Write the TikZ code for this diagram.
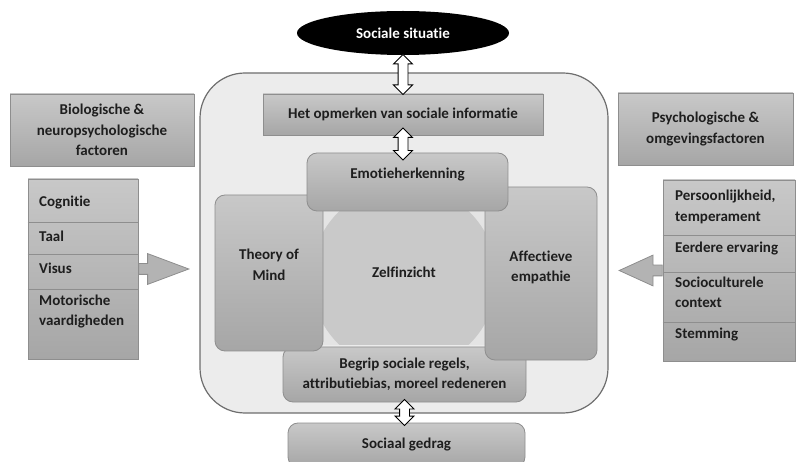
\documentclass[tikz,border=0pt]{standalone}
\usepackage{fontspec}
\setmainfont{Carlito}[Ligatures=CommonOff]
\usetikzlibrary{shapes.geometric}
\usetikzlibrary{shapes.arrows}

\definecolor{boxtop}{HTML}{C8C8C8}
\definecolor{boxbot}{HTML}{A6A6A6}
\definecolor{boxline}{HTML}{8E8E8E}
\definecolor{panelfill}{HTML}{ECECEC}
\definecolor{panelline}{HTML}{6E6E6E}
\definecolor{zelfbg}{HTML}{E4E4E4}
\definecolor{zelfcirc}{HTML}{C9C9C9}
\definecolor{txt}{HTML}{1E1E1E}

\begin{document}
\begin{tikzpicture}[x=1pt, y=-1pt, text=txt, font=\bfseries\fontsize{15}{20.5}\selectfont,
    box/.style={draw=boxline, top color=boxtop, bottom color=boxbot, line width=0.8pt, align=center, inner sep=0pt},
    rbox/.style={box, rounded corners=10pt},
    item/.style={anchor=west, align=left, inner sep=0pt},
    divider/.style={draw=boxline, line width=0.8pt},
    dblarrow/.style={double arrow, draw=black, fill=white, line width=0.9pt, rotate=90, minimum width=18pt, double arrow head extend=4.5pt, inner xsep=0pt, inner ysep=4.5pt},
    blockarrow/.style={single arrow, draw=boxline, fill=boxbot!85!white, line width=0.8pt, minimum width=30pt, single arrow head extend=10pt, inner xsep=0pt, inner ysep=5pt, anchor=tail}]
    \useasboundingbox (0,0) rectangle (798,462);

    % middle part
    \node[draw=panelline, fill=panelfill, line width=1.2pt, rounded corners=45pt, minimum width=408pt, minimum height=340pt] (panel) at (404,243) {};
    \node[ellipse, fill=black, text=white, minimum width=212pt, minimum height=44pt] (situatie) at (403,33) {Sociale situatie};
    \node[box, minimum width=280pt, minimum height=41pt] (opmerken) at (403,114.5) {Het opmerken van sociale informatie};
    \node[fill=zelfbg, minimum width=162pt, minimum height=134pt, path picture={\fill[zelfcirc] (path picture bounding box.center) circle (93pt);}] (zelf) at (404,278) {};
    \node (zelftxt) at ([yshift=6pt]zelf.center) {Zelfinzicht};
    \node[rbox, minimum width=243pt, minimum height=55pt] (begrip) at (404.5,374.5) {Begrip sociale regels,\\attributiebias, moreel redeneren};
    \node[rbox, minimum width=108pt, minimum height=156pt] (tom) at (269,273) {};
    \node[align=center] (tomtxt) at ([yshift=8pt]tom.center) {Theory of\\Mind};
    \node[rbox, minimum width=112pt, minimum height=173pt] (empathie) at (541,273.5) {};
    \node[align=center] (empathietxt) at ([yshift=6pt]empathie.center) {Affectieve\\empathie};
    \node[rbox, minimum width=201pt, minimum height=58pt] (emotie) at (407.5,182) {};
    \node (emotietxt) at ([yshift=7pt]emotie.center) {Emotieherkenning};
    \node[rbox, minimum width=237pt, minimum height=44pt] (gedrag) at (406.5,445) {Sociaal gedrag};

    \path (situatie.south) -- (opmerken.north) node[midway, dblarrow, minimum height=40pt] (pijl1) {};
    \path (opmerken.south) -- (opmerken.south |- emotie.north) node[midway, dblarrow, minimum height=32pt] (pijl2) {};
    \path (begrip.south) -- (begrip.south |- gedrag.north) node[midway, dblarrow, minimum height=26pt] (pijl3) {};

    % left
    \node[box, minimum width=184pt, minimum height=72pt] (biofactoren) at (102,130) {Biologische \&\\neuropsychologische\\factoren};
    \node[box, minimum width=110pt, minimum height=180pt] (biolijst) at (83,269) {};
    \foreach \y in {222,254,289}
        \draw[divider] (biolijst.west |- 0,\y) -- (biolijst.east |- 0,\y);
    \node[item] (cognitie) at (39,203) {Cognitie};
    \node[item] (taal) at (39,236) {Taal};
    \node[item] (visus) at (39,268) {Visus};
    \node[item] (motoriek) at (39,311.5) {Motorische\\vaardigheden};
    \node[blockarrow, minimum height=50pt, single arrow tip angle=41] (biopijl) at (biolijst.east) {};

    % right
    \node[box, minimum width=175pt, minimum height=72pt] (psyfactoren) at (705.5,129) {Psychologische \&\\omgevingsfactoren};
    \node[box, minimum width=132pt, minimum height=181pt] (psylijst) at (729,270.5) {};
    \foreach \y in {235,272,322}
        \draw[divider] (psylijst.west |- 0,\y) -- (psylijst.east |- 0,\y);
    \node[item] (persoon) at (675,207) {Persoonlijkheid,\\temperament};
    \node[item] (ervaring) at (675,249) {Eerdere ervaring};
    \node[item] (cultuur) at (675,292.5) {Socioculturele\\context};
    \node[item] (stemming) at (675,335) {Stemming};
    \node[blockarrow, minimum height=43pt, single arrow tip angle=49, rotate=180] (psypijl) at (psylijst.west) {};
\end{tikzpicture}
\end{document}
